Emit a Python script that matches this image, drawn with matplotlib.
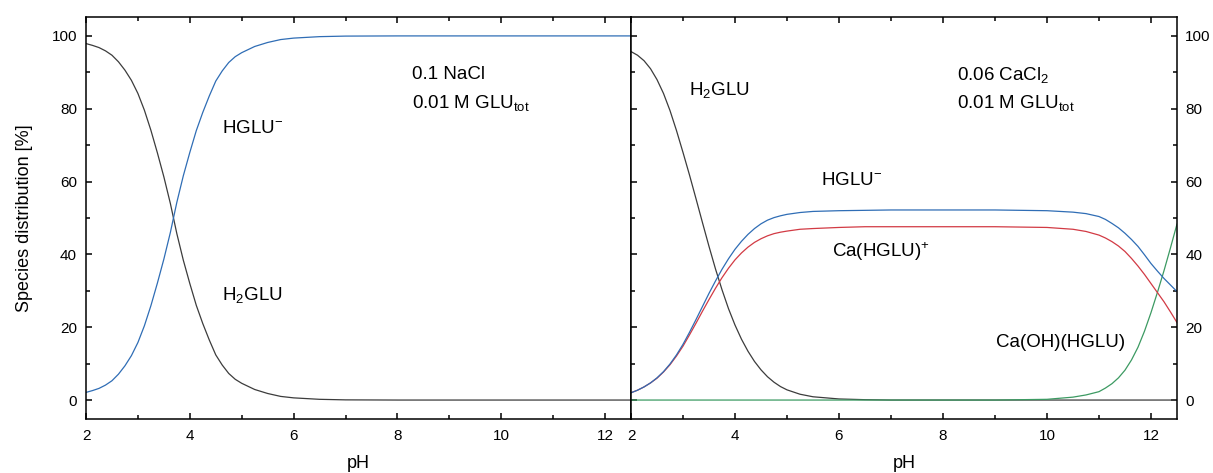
import numpy as np
import matplotlib.pyplot as plt
from matplotlib.ticker import MultipleLocator

plt.rcParams['font.family'] = ['Liberation Sans', 'DejaVu Sans']
plt.rcParams['mathtext.fontset'] = 'custom'
plt.rcParams['mathtext.rm'] = 'Liberation Sans'
plt.rcParams['mathtext.it'] = 'Liberation Sans:italic'
plt.rcParams['mathtext.default'] = 'regular'

# 0.1 NaCl (left panel)
ph_a = [2, 2.125, 2.25, 2.375, 2.5, 2.625, 2.75, 2.875, 3, 3.125, 3.25, 3.375, 3.5, 3.625, 3.75, 3.875,
        4, 4.125, 4.25, 4.375, 4.5, 4.625, 4.75, 4.875, 5, 5.25, 5.5, 5.75, 6, 6.5, 7, 8, 10, 12.5]
h2glu_a = [97.9, 97.4, 96.8, 95.9, 94.7, 92.9, 90.6, 87.8, 84.2, 79.6, 74.1, 67.9, 61.3, 54.0, 45.7, 38.4,
           32.0, 26.0, 21.0, 16.5, 12.4, 9.6, 7.3, 5.7, 4.6, 2.9, 1.8, 1.0, 0.6, 0.2, 0.05, 0, 0, 0]
hglu_a = [2.1, 2.6, 3.2, 4.1, 5.3, 7.1, 9.4, 12.2, 15.8, 20.4, 25.9, 32.1, 38.7, 46.0, 54.3, 61.6,
          68.0, 74.0, 79.0, 83.5, 87.6, 90.4, 92.7, 94.3, 95.4, 97.1, 98.2, 99.0, 99.4, 99.8, 99.95, 100, 100, 100]

# 0.06 CaCl2 (right panel)
ph_b = [2, 2.125, 2.25, 2.375, 2.5, 2.625, 2.75, 2.875, 3, 3.125, 3.25, 3.375, 3.5, 3.625, 3.75, 3.875,
        4, 4.125, 4.25, 4.375, 4.5, 4.625, 4.75, 4.875, 5, 5.25, 5.5, 6, 6.5, 7, 8, 9, 10,
        10.5, 10.75, 11, 11.125, 11.25, 11.375, 11.5, 11.625, 11.75, 11.875, 12, 12.125, 12.25, 12.375, 12.5]
h2glu_b = [95.7, 94.7, 93.2, 91.0, 88.0, 84.2, 79.5, 74.0, 68.0, 61.8, 55.3, 48.7, 42.2, 36.0, 30.3, 25.1,
           20.6, 16.7, 13.4, 10.6, 8.3, 6.4, 4.9, 3.7, 2.8, 1.6, 0.9, 0.3, 0.1, 0, 0, 0, 0,
           0, 0, 0, 0, 0, 0, 0, 0, 0, 0, 0, 0, 0, 0, 0]
hglu_b = [2.0, 2.7, 3.6, 4.7, 6.1, 7.8, 9.9, 12.4, 15.3, 18.6, 22.1, 25.7, 29.3, 32.7, 35.9, 38.8,
          41.4, 43.6, 45.5, 47.1, 48.4, 49.4, 50.1, 50.6, 51.0, 51.5, 51.8, 52.0, 52.1, 52.2, 52.2, 52.2, 52.0,
          51.6, 51.2, 50.4, 49.6, 48.5, 47.3, 45.8, 44.1, 42.2, 39.9, 37.5, 35.4, 33.4, 31.6, 29.8]
cahglu_b = [2.0, 2.7, 3.6, 4.7, 6.0, 7.7, 9.7, 12.1, 14.8, 17.9, 21.1, 24.4, 27.6, 30.7, 33.6, 36.2,
            38.5, 40.4, 42.0, 43.3, 44.3, 45.1, 45.7, 46.1, 46.4, 46.9, 47.1, 47.4, 47.6, 47.6, 47.6, 47.6, 47.4,
            46.9, 46.3, 45.3, 44.5, 43.5, 42.3, 40.8, 38.9, 36.8, 34.5, 32.0, 29.5, 27.0, 24.2, 21.3]
caohhglu_b = [0, 0, 0, 0, 0, 0, 0, 0, 0, 0, 0, 0, 0, 0, 0, 0,
              0, 0, 0, 0, 0, 0, 0, 0, 0, 0, 0, 0, 0, 0, 0, 0, 0.2,
              0.8, 1.4, 2.3, 3.3, 4.5, 6.1, 8.2, 11.0, 14.5, 18.9, 24.0, 29.6, 35.5, 41.8, 48.3]

c_black = '#3c3c3c'
c_blue = '#2f6db5'
c_red = '#d23a44'
c_green = '#3c9a62'
lw = 0.9

fig = plt.figure(figsize=(12.13, 4.73), dpi=100)
ax1 = fig.add_axes([0.0709, 0.1142, 0.4493, 0.8499])
ax2 = fig.add_axes([0.5202, 0.1142, 0.4501, 0.8499])

ax1.plot(ph_a, h2glu_a, color=c_black, lw=lw)
ax1.plot(ph_a, hglu_a, color=c_blue, lw=lw)

ax2.plot(ph_b, h2glu_b, color=c_black, lw=lw)
ax2.plot(ph_b, caohhglu_b, color=c_green, lw=lw)
ax2.plot(ph_b, cahglu_b, color=c_red, lw=lw)
ax2.plot(ph_b, hglu_b, color=c_blue, lw=lw)

for ax in (ax1, ax2):
    ax.set_xlim(2, 12.5)
    ax.set_ylim(-5.2, 105.2)
    ax.xaxis.set_major_locator(MultipleLocator(2))
    ax.xaxis.set_minor_locator(MultipleLocator(1))
    ax.yaxis.set_major_locator(MultipleLocator(20))
    ax.yaxis.set_minor_locator(MultipleLocator(10))
    ax.tick_params(which='both', direction='in', top=True, bottom=True, width=1.1,
                   labelsize=11, colors='black')
    ax.tick_params(axis='x', pad=7.5)
    ax.tick_params(axis='y', pad=6.5)
    ax.tick_params(which='major', length=4.5)
    ax.tick_params(which='minor', length=2.8)
    for s in ax.spines.values():
        s.set_linewidth(1.1)
    ax.set_xlabel('pH', fontsize=13, labelpad=8)

ax1.tick_params(which='both', left=True, right=False)
ax1.set_ylabel('Species distribution [%]', fontsize=13, labelpad=13)
ax2.tick_params(which='both', left=True, right=True, labelleft=False, labelright=True)
ax2.tick_params(axis='y', pad=6)

fs = 13.5
ax1.text(4.62, 74.7, r'HGLU$^{-}$', fontsize=fs, va='center')
ax1.text(4.62, 28.8, r'H$_2$GLU', fontsize=fs, va='center')
ax1.text(8.29, 89.3, '0.1 NaCl', fontsize=fs, va='center')
ax1.text(8.29, 81.6, r'0.01 M GLU$_{tot}$', fontsize=fs, va='center')

ax2.text(3.12, 85.2, r'H$_2$GLU', fontsize=fs, va='center')
ax2.text(8.27, 89.3, r'0.06 CaCl$_2$', fontsize=fs, va='center')
ax2.text(8.27, 81.6, r'0.01 M GLU$_{tot}$', fontsize=fs, va='center')
ax2.text(5.65, 60.4, r'HGLU$^{-}$', fontsize=fs, va='center')
ax2.text(5.87, 40.7, r'Ca(HGLU)$^{+}$', fontsize=fs, va='center')
ax2.text(9.02, 15.9, 'Ca(OH)(HGLU)', fontsize=fs, va='center')

fig.savefig('out.png', dpi=100)
